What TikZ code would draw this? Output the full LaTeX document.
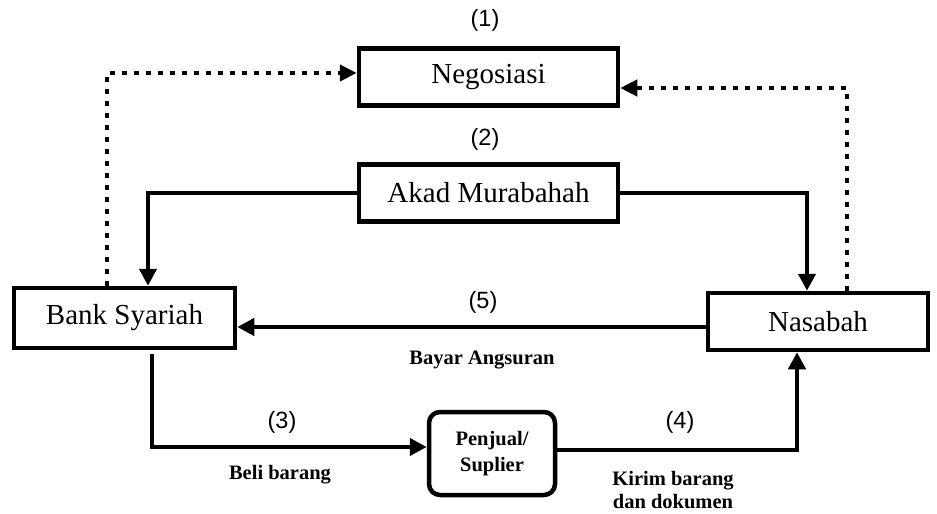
\documentclass[tikz,border=0pt]{standalone}
\usepackage{fontspec}
\setmainfont{Liberation Serif}
\newfontfamily\numfont{Liberation Sans}
\usetikzlibrary{positioning, arrows.meta}

\begin{document}
\begin{tikzpicture}[x=1pt, y=-1pt,
    kotak/.style={draw, line width=4.5pt, inner sep=0pt, align=center, font=\fontsize{29}{32}\selectfont},
    panah/.style={line width=4.5pt, -{Triangle[length=17pt, width=17pt]}},
    putus/.style={line width=4.5pt, dash pattern=on 4.5pt off 7.5pt, -{Triangle[length=17pt, width=16pt]}},
    nomor/.style={font=\numfont\fontsize{23.5}{26}\selectfont},
    ket/.style={font=\bfseries\fontsize{20.5}{23}\selectfont, align=center, inner sep=0pt}]
    % bingkai
    \useasboundingbox (0,0) rectangle (937,514);
    
    % kotak utama
    \node[kotak, minimum width=259pt, minimum height=57pt] (nego) at (488.5, 77) {Negosiasi};
    \node[kotak, minimum width=259pt, minimum height=57pt] (akad) at (488.5, 193) {Akad Murabahah};
    \node[kotak, minimum width=221pt, minimum height=60pt] (bank) at (124.5, 318) {Bank Syariah};
    \node[kotak, minimum width=220pt, minimum height=57pt] (nasabah) at (818, 321.5) {Nasabah};
    \node[kotak, rounded corners=11pt, minimum width=126pt, minimum height=83pt,
          font=\bfseries\fontsize{20.5}{26}\selectfont] (penjual) at (492, 453.5) {Penjual/\\Suplier};
    
    % nomor langkah
    \node[nomor] (n1) at (485, 20) {(1)};
    \node[nomor] (n2) at (485, 139) {(2)};
    \node[nomor] (n5) at (483, 302) {(5)};
    \node[nomor] (n3) at (282, 422) {(3)};
    \node[nomor] (n4) at (680, 422) {(4)};
    
    % keterangan
    \node[ket] (bayar) at (482, 360) {Bayar Angsuran};
    \node[ket] (beli) at (280, 475) {Beli barang};
    \node[ket] (kirim) at (673, 490) {Kirim barang\\dan dokumen};
    
    % negosiasi (titik-titik)
    \draw[putus] ([xshift=-17.5pt]bank.north) |- ([yshift=4pt]nego.west);
    \draw[putus] ([xshift=29pt]nasabah.north) |- ([yshift=-11pt]nego.east);
    
    % akad
    \draw[panah] (akad.west) -| ([xshift=23.5pt]bank.north);
    \draw[panah] (akad.east) -| ([xshift=-11pt]nasabah.north);
    
    % bayar angsuran
    \draw[panah] ([yshift=-5.5pt]nasabah.west) coordinate (p5) -- (p5 -| bank.east);
    
    % beli dan kirim barang
    \draw[panah] ([xshift=27.5pt, yshift=-4pt]bank.south) |- ([yshift=6.5pt]penjual.west);
    \draw[panah] ([yshift=3.5pt]penjual.east) -| ([xshift=-21pt]nasabah.south);
  \end{tikzpicture}
\end{document}
